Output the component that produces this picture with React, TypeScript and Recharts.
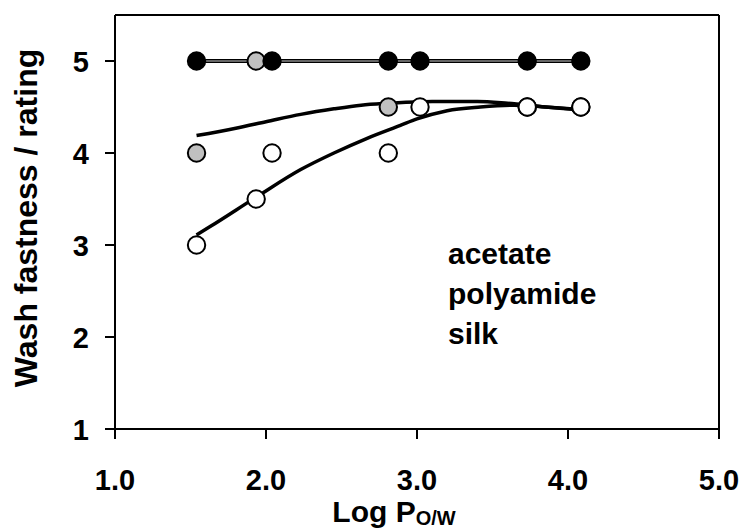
import React from "react"
import {
  ComposedChart,
  Line,
  Scatter,
  XAxis,
  YAxis,
  ReferenceLine,
} from "recharts"

// measured points (log Pow vs wash fastness rating)
const acetateX = [1.54, 2.04, 2.81, 3.02, 3.73, 4.085]
const acetateY = [5, 5, 5, 5, 5, 5]

const polyamideX = [1.54, 1.935, 2.81, 3.73, 4.085]
const polyamideY = [4, 5, 4.5, 4.5, 4.5]

const silkX = [1.54, 1.935, 2.04, 2.81, 3.02, 3.73, 4.085]
const silkY = [3, 3.5, 4, 4, 4.5, 4.5, 4.5]

// fitted trend lines
const acetateFitX = [1.54, 4.085]
const acetateFitY = [5, 5]

const polyamideFitX = [1.54, 1.8, 2.0, 2.23, 2.45, 2.63, 2.81, 3.1, 3.4, 3.6, 3.85, 4.085]
const polyamideFitY = [4.19, 4.27, 4.34, 4.42, 4.48, 4.52, 4.54, 4.56, 4.56, 4.54, 4.5, 4.47]

const silkFitX = [1.54, 1.63, 1.935, 2.23, 2.45, 2.67, 2.89, 3.0, 3.2, 3.42, 3.64, 3.85, 4.085]
const silkFitY = [3.11, 3.2, 3.52, 3.82, 4.0, 4.16, 4.3, 4.37, 4.46, 4.5, 4.52, 4.5, 4.47]

const xTicks = [1, 2, 3, 4, 5]
const yTicks = [1, 2, 3, 4, 5]
const legendLabels = ["acetate", "polyamide", "silk"]

const FONT = "'Liberation Sans', Arial, Helvetica, sans-serif"

const zip = (xs: number[], ys: number[]) => xs.map((x, i) => ({ x, y: ys[i] }))

const dotShape = (fill: string) => (props: any) => (
  <circle cx={props.cx} cy={props.cy} r={8.7} fill={fill} stroke="#000" strokeWidth={2} />
)

const XTick = (props: any) => (
  <text
    x={props.x}
    y={490}
    textAnchor="middle"
    fontFamily={FONT}
    fontWeight="bold"
    fontSize={29}
    fill="#000"
  >
    {Number(props.payload.value).toFixed(1)}
  </text>
)

const YTick = (props: any) => (
  <text
    x={89}
    y={props.y + 11}
    textAnchor="end"
    fontFamily={FONT}
    fontWeight="bold"
    fontSize={29}
    fill="#000"
  >
    {props.payload.value}
  </text>
)

const YTitle = () => (
  <text
    x={37}
    y={218}
    transform="rotate(-90 37 218)"
    textAnchor="middle"
    fontFamily={FONT}
    fontWeight="bold"
    fontSize={32}
    fill="#000"
  >
    Wash fastness / rating
  </text>
)

const XTitle = () => (
  <text
    x={394}
    y={522}
    textAnchor="middle"
    fontFamily={FONT}
    fontWeight="bold"
    fontSize={30}
    fill="#000"
  >
    <tspan>Log P</tspan>
    <tspan fontSize={20} dy={3}>O/W</tspan>
  </text>
)

export default function App() {
  const axisStyle = { stroke: "#000", strokeWidth: 2 }
  return (
    <div
      style={{
        position: "absolute",
        top: 0,
        left: 0,
        width: 742,
        height: 530,
        overflow: "hidden",
        background: "#fff",
      }}
    >
      <ComposedChart
        width={742}
        height={530}
        margin={{ top: 15, right: 23, bottom: 0, left: 0 }}
      >
        <XAxis
          type="number"
          dataKey="x"
          domain={[1, 5]}
          ticks={xTicks}
          allowDataOverflow
          tickSize={10}
          axisLine={axisStyle}
          tickLine={axisStyle}
          tick={<XTick />}
          height={101}
          label={XTitle}
        />
        <YAxis
          type="number"
          dataKey="y"
          domain={[1, 5.5]}
          ticks={yTicks}
          allowDataOverflow
          tickSize={10}
          axisLine={axisStyle}
          tickLine={axisStyle}
          tick={<YTick />}
          width={115}
          label={YTitle}
        />
        <ReferenceLine y={5.5} stroke="#000" strokeWidth={2} />
        <ReferenceLine x={5} stroke="#000" strokeWidth={2} />
        <Scatter
          data={zip(polyamideX, polyamideY)}
          shape={dotShape("#c0c0c0")}
          isAnimationActive={false}
        />
        <Scatter
          data={zip(silkX, silkY)}
          shape={dotShape("#fff")}
          isAnimationActive={false}
        />
        <Line
          data={zip(acetateFitX, acetateFitY)}
          dataKey="y"
          type="linear"
          stroke="#000"
          strokeWidth={4}
          dot={false}
          isAnimationActive={false}
        />
        <Line
          data={zip(acetateFitX, acetateFitY)}
          dataKey="y"
          type="linear"
          stroke="#8a8a8a"
          strokeWidth={1.5}
          dot={false}
          isAnimationActive={false}
        />
        <Line
          data={zip(polyamideFitX, polyamideFitY)}
          dataKey="y"
          type="monotone"
          stroke="#000"
          strokeWidth={3.5}
          dot={false}
          isAnimationActive={false}
        />
        <Line
          data={zip(silkFitX, silkFitY)}
          dataKey="y"
          type="monotone"
          stroke="#000"
          strokeWidth={3.5}
          dot={false}
          isAnimationActive={false}
        />
        <Scatter
          data={zip(acetateX, acetateY)}
          shape={dotShape("#000")}
          isAnimationActive={false}
        />
      </ComposedChart>
      <div
        style={{
          position: "absolute",
          left: 448,
          top: 234,
          fontFamily: FONT,
          fontWeight: "bold",
          fontSize: 30,
          lineHeight: "40px",
          color: "#000",
        }}
      >
        {legendLabels.map((l) => (
          <div key={l}>{l}</div>
        ))}
      </div>
    </div>
  )
}
